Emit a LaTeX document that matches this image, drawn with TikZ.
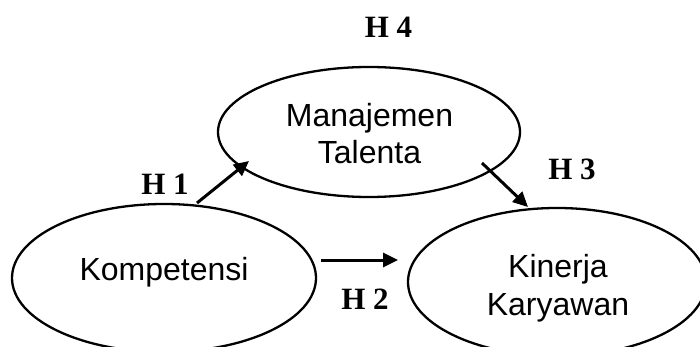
\documentclass[tikz,border=0pt]{standalone}
\usepackage{fontspec}
\setmainfont{Liberation Serif}
\newfontfamily\arialfont{Liberation Sans}
\usetikzlibrary{shapes.geometric,arrows.meta}
\tikzset{
  ell/.style={ellipse,draw=black,line width=2.3pt,inner sep=0pt},
  lbl/.style={font=\arialfont\fontsize{32}{37}\selectfont,align=center,inner sep=0pt},
  hyp/.style={font=\bfseries\fontsize{31}{31}\selectfont,inner sep=0pt},
  arr/.style={line width=3pt,-{Triangle[length=15pt,width=14pt]}}
}
\begin{document}
\begin{tikzpicture}[x=1pt,y=-1pt]
\useasboundingbox (0,0) rectangle (700,347);
\node[ell,minimum width=302pt,minimum height=130pt] (mt) at (369,132) {};
\node[ell,minimum width=304pt,minimum height=148pt] (ko) at (164,278) {};
\node[ell,minimum width=298pt,minimum height=148pt] (kk) at (557,282) {};
\node[lbl] (mtt) at (369.5,134) {Manajemen\\Talenta};
\node[lbl] (kot) at (164,272) {Kompetensi};
\node[lbl,font=\arialfont\fontsize{32}{38}\selectfont] (kkt) at (558,288) {Kinerja\\Karyawan};
\coordinate (a1s) at (197,203);
\coordinate (a1e) at (249,161);
\coordinate (a2s) at (321,260);
\coordinate (a2e) at (398,260);
\coordinate (a3s) at (482,163);
\coordinate (a3e) at (528,207);
\draw[arr] (a1s) -- (a1e);
\draw[arr] (a2s) -- (a2e);
\draw[arr] (a3s) -- (a3e);
\node[hyp] (h4) at (388.5,27) {H 4};
\node[hyp] (h1) at (165,184) {H 1};
\node[hyp] (h2) at (365,299) {H 2};
\node[hyp] (h3) at (572,169) {H 3};
\end{tikzpicture}
\end{document}
